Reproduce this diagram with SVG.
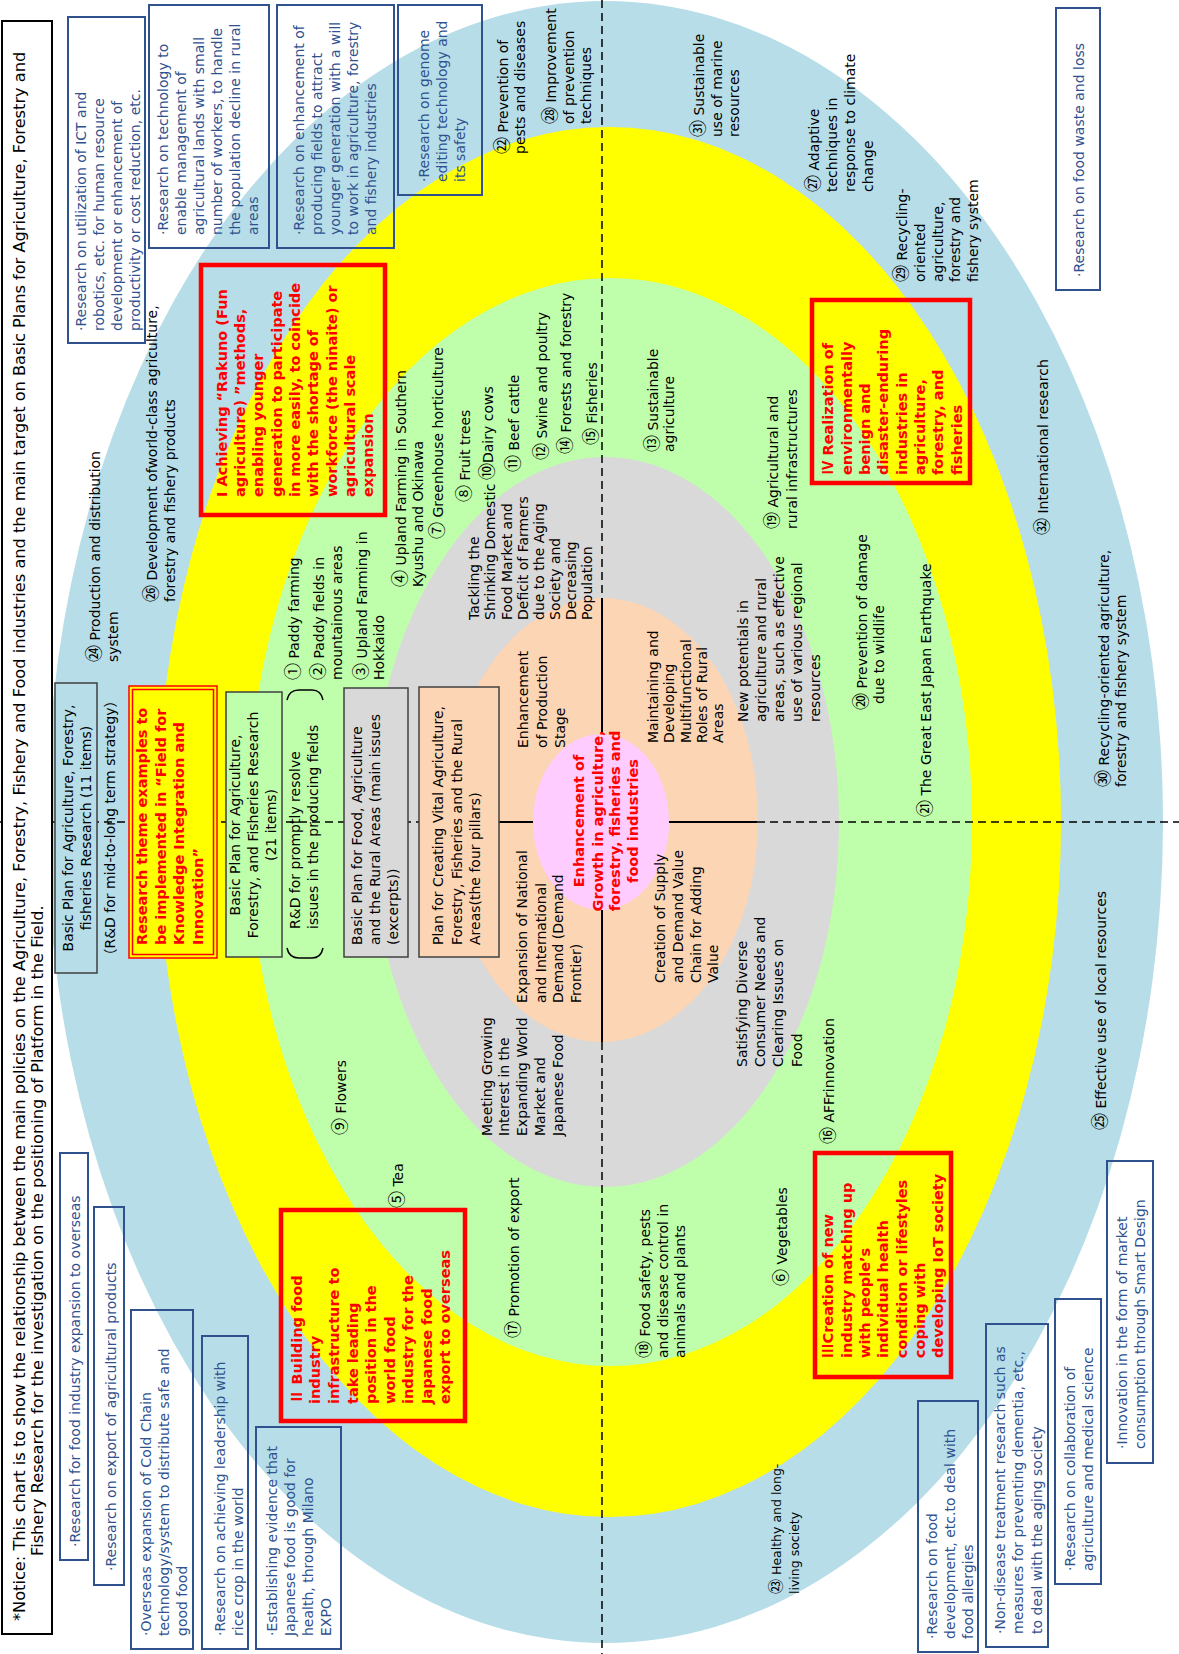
<svg xmlns="http://www.w3.org/2000/svg" width="1179" height="1654" viewBox="0 0 1179 1654">
<style>
text{font-family:"DejaVu Sans","Noto Sans CJK JP",sans-serif;}
.k{font-size:14px;fill:#000;}
.s{font-size:12.5px;fill:#000;}
.u{font-size:14px;fill:#2F528F;}
.r{font-size:14.5px;font-weight:bold;fill:#FF0000;}
.h{font-size:16.2px;fill:#000;}
.m{text-anchor:middle;}
.c{font-family:"Noto Sans CJK JP",sans-serif;font-size:17px;}
.cs{font-family:"Noto Sans CJK JP",sans-serif;font-size:15px;}
.n{font-family:"Noto Sans CJK JP",sans-serif;}
.bx{fill:none;stroke:#2F528F;stroke-width:2;}
.rb{fill:none;stroke:#FF0000;stroke-width:4.5;}
.pb{stroke:#404040;stroke-width:1.5;}
.dash{fill:none;stroke:#000;stroke-width:1.5;stroke-dasharray:8 5;}
.sol{fill:none;stroke:#000;stroke-width:2;}
</style>
<rect width="1179" height="1654" fill="#fff"/>
<g id="rings">
<ellipse cx="605" cy="822" rx="558" ry="821" fill="#B7DDE8"/>
<ellipse cx="609" cy="822" rx="452" ry="695" fill="#FFFF00"/>
<ellipse cx="610" cy="822" rx="362" ry="544" fill="#BFFFAB"/>
<ellipse cx="605" cy="822" rx="234" ry="365" fill="#D9D9D9"/>
<ellipse cx="602" cy="820" rx="156" ry="222" fill="#FCD5B4"/>
<ellipse cx="601" cy="822" rx="68" ry="88" fill="#FFCCFF"/>
</g>
<g id="connectors">
<path class="dash" d="M602,0V598M602,1042V1654M0,822H447M757,822H1179"/>
<path class="sol" d="M602,598V734M602,910V1042M447,822H533M669,822H757"/>
</g>
<g id="title">
<rect x="2" y="21" width="50" height="1613" fill="#fff" stroke="#000" stroke-width="2"/>
<text class="h" transform="translate(25,1621) rotate(-90)">*Notice: This chart is to show the relationship between the main policies on the Agriculture, Forestry, Fishery and Food industries and the main target on Basic Plans for Agriculture, Forestry and</text>
<text class="h" transform="translate(43,1556) rotate(-90)">Fishery Research for the investigation on the positioning of Platform in the Field.</text>
</g>
<g id="plan-boxes">
<g id="plan11">
<rect class="pb" x="55" y="683" width="42" height="290" fill="#B7DDE8"/>
<text class="k m" transform="translate(73,828) rotate(-90)"><tspan x="0" y="0">Basic Plan for Agriculture, Forestry,</tspan><tspan x="0" y="18">fisheries Research (11 items)</tspan></text>
<text class="k m" transform="translate(115,828) rotate(-90)">（R&amp;D for mid-to-long term strategy）</text>
</g>
<g id="theme-box">
<rect x="129" y="686" width="88" height="272" fill="#FFFF00" stroke="#FF0000" stroke-width="1.5"/>
<rect x="132.5" y="689.5" width="81" height="265" fill="none" stroke="#FF0000" stroke-width="1.5"/>
<text class="r" transform="translate(147,945) rotate(-90)"><tspan x="0" y="0">Research theme examples to</tspan><tspan x="0" y="19">be implemented in “Field for</tspan><tspan x="0" y="37">Knowledge Integration and</tspan><tspan x="0" y="56">Innovation”</tspan></text>
</g>
<g id="plan21">
<rect class="pb" x="226" y="692" width="56" height="265" fill="#BFFFAB"/>
<text class="k m" transform="translate(240,825) rotate(-90)"><tspan x="0" y="0">Basic Plan for Agriculture,</tspan><tspan x="0" y="18">Forestry, and Fisheries Research</tspan><tspan x="0" y="36">(21 items)</tspan></text>
<path d="M287,948Q289,958 299,958H312Q321,958 323,948M287,700Q289,690 299,690H312Q321,690 323,700" fill="none" stroke="#000" stroke-width="1.5"/>
<text class="k" transform="translate(300,929) rotate(-90)"><tspan x="0" y="0">R&amp;D for promptly resolve</tspan><tspan x="0" y="18">issues in the producing fields</tspan></text>
</g>
<g id="planfood">
<rect class="pb" x="344" y="688" width="64" height="269" fill="#D9D9D9"/>
<text class="k" transform="translate(362,945) rotate(-90)"><tspan x="0" y="0">Basic Plan for Food, Agriculture</tspan><tspan x="0" y="18">and the Rural Areas (main issues</tspan><tspan x="0" y="36">(excerpts))</tspan></text>
</g>
<g id="planvital">
<rect class="pb" x="419" y="687" width="80" height="270" fill="#FCD5B4"/>
<text class="k" transform="translate(443,945) rotate(-90)"><tspan x="0" y="0">Plan for Creating Vital Agriculture,</tspan><tspan x="0" y="19">Forestry, Fisheries and the Rural</tspan><tspan x="0" y="37">Areas(the four pillars)</tspan></text>
</g>
</g>
<g id="center">
<text class="r m" transform="translate(584,821) rotate(-90)"><tspan x="0" y="0">Enhancement of</tspan><tspan x="0" y="19">Growth in agriculture,</tspan><tspan x="0" y="36">forestry, fisheries and</tspan><tspan x="0" y="54">food industries</tspan></text>
</g>
<g id="pillars">
<text class="k" transform="translate(528,748) rotate(-90)"><tspan x="0" y="0">Enhancement</tspan><tspan x="0" y="19">of Production</tspan><tspan x="0" y="37">Stage</tspan></text>
<text class="k" transform="translate(658,743) rotate(-90)"><tspan x="0" y="0">Maintaining  and</tspan><tspan x="0" y="16">Developing</tspan><tspan x="0" y="33">Multifunctional</tspan><tspan x="0" y="49">Roles of Rural</tspan><tspan x="0" y="65">Areas</tspan></text>
<text class="k" transform="translate(527,1003) rotate(-90)"><tspan x="0" y="0">Expansion of National</tspan><tspan x="0" y="19">and International</tspan><tspan x="0" y="36">Demand (Demand</tspan><tspan x="0" y="54">Frontier)</tspan></text>
<text class="k" transform="translate(665,983) rotate(-90)"><tspan x="0" y="0">Creation of Supply</tspan><tspan x="0" y="18">and Demand Value</tspan><tspan x="0" y="36">Chain for Adding</tspan><tspan x="0" y="53">Value</tspan></text>
</g>
<g id="issues">
<text class="k" transform="translate(479,620) rotate(-90)"><tspan x="0" y="0">Tackling the</tspan><tspan x="0" y="16">Shrinking Domestic</tspan><tspan x="0" y="33">Food Market and</tspan><tspan x="0" y="49">Deficit of Farmers</tspan><tspan x="0" y="65">due to the Aging</tspan><tspan x="0" y="81">Society and</tspan><tspan x="0" y="97">Decreasing</tspan><tspan x="0" y="113">Population</tspan></text>
<text class="k" transform="translate(748,722) rotate(-90)"><tspan x="0" y="0">New potentials in</tspan><tspan x="0" y="18">agriculture and rural</tspan><tspan x="0" y="36">areas, such as effective</tspan><tspan x="0" y="54">use of various regional</tspan><tspan x="0" y="72">resources</tspan></text>
<text class="k" transform="translate(492,1136) rotate(-90)"><tspan x="0" y="0">Meeting Growing</tspan><tspan x="0" y="17">Interest in the</tspan><tspan x="0" y="35">Expanding World</tspan><tspan x="0" y="53">Market and</tspan><tspan x="0" y="71">Japanese Food</tspan></text>
<text class="k" transform="translate(747,1067) rotate(-90)"><tspan x="0" y="0">Satisfying Diverse</tspan><tspan x="0" y="18">Consumer Needs and</tspan><tspan x="0" y="36">Clearing Issues on</tspan><tspan x="0" y="55">Food</tspan></text>
</g>
<g id="commodities">
<text class="k" transform="translate(299,680) rotate(-90)"><tspan class="c">①</tspan> Paddy farming</text>
<text class="k" transform="translate(324,680) rotate(-90)"><tspan x="0" y="0"><tspan class="c">②</tspan> Paddy fields in</tspan><tspan x="0" y="18">mountainous areas</tspan></text>
<text class="k" transform="translate(367,680) rotate(-90)"><tspan x="0" y="0"><tspan class="c">③</tspan> Upland Farming in</tspan><tspan x="0" y="17">Hokkaido</tspan></text>
<text class="k" transform="translate(406,587) rotate(-90)"><tspan x="0" y="0"><tspan class="c">④</tspan> Upland Farming  in Southern</tspan><tspan x="0" y="17">Kyushu and Okinawa</tspan></text>
<text class="k" transform="translate(443,539) rotate(-90)"><tspan class="c">⑦</tspan> Greenhouse horticulture</text>
<text class="k" transform="translate(470,502) rotate(-90)"><tspan class="c">⑧</tspan> Fruit trees</text>
<text class="k" transform="translate(493,480) rotate(-90)"><tspan class="c">⑩</tspan>Dairy cows</text>
<text class="k" transform="translate(519,472) rotate(-90)"><tspan class="c">⑪</tspan> Beef cattle</text>
<text class="k" transform="translate(547,460) rotate(-90)"><tspan class="c">⑫</tspan> Swine and poultry</text>
<text class="k" transform="translate(571,454) rotate(-90)"><tspan class="c">⑭</tspan> Forests and forestry</text>
<text class="k" transform="translate(597,445) rotate(-90)"><tspan class="c">⑮</tspan> Fisheries</text>
<text class="k" transform="translate(658,452) rotate(-90)"><tspan x="0" y="0"><tspan class="c">⑬</tspan> Sustainable</tspan><tspan x="0" y="16">agriculture</tspan></text>
<text class="k" transform="translate(778,529) rotate(-90)"><tspan x="0" y="0"><tspan class="c">⑲</tspan> Agricultural and</tspan><tspan x="0" y="19">rural infrastructures</tspan></text>
<text class="k" transform="translate(867,710) rotate(-90)"><tspan x="0" y="0"><tspan class="c">⑳</tspan> Prevention of damage</tspan><tspan x="6" y="17">due to wildlife</tspan></text>
<text class="k" transform="translate(931,817) rotate(-90)"><tspan class="c">㉑</tspan> The Great East Japan Earthquake</text>
<text class="k" transform="translate(346,1135) rotate(-90)"><tspan class="c">⑨</tspan> Flowers</text>
<text class="k" transform="translate(403,1208) rotate(-90)"><tspan class="c">⑤</tspan> Tea</text>
<text class="k" transform="translate(519,1338) rotate(-90)"><tspan class="c">⑰</tspan> Promotion of export</text>
<text class="k" transform="translate(650,1358) rotate(-90)"><tspan x="0" y="0"><tspan class="c">⑱</tspan> Food safety, pests</tspan><tspan x="0" y="18">and disease control in</tspan><tspan x="0" y="35">animals and plants</tspan></text>
<text class="k" transform="translate(787,1286) rotate(-90)"><tspan class="c">⑥</tspan> Vegetables</text>
<text class="k" transform="translate(834,1144) rotate(-90)"><tspan class="c">⑯</tspan> AFFrinnovation</text>
</g>
<g id="outer-labels">
<text class="k" transform="translate(100,662) rotate(-90)"><tspan x="0" y="0"><tspan class="c">㉔</tspan> Production and distribution</tspan><tspan x="0" y="18">system</tspan></text>
<text class="k" transform="translate(157,602) rotate(-90)"><tspan x="0" y="0"><tspan class="c">㉖</tspan> Development ofworld-class agriculture,</tspan><tspan x="0" y="18">forestry and fishery products</tspan></text>
<text class="k" transform="translate(508,154) rotate(-90)"><tspan x="0" y="0"><tspan class="c">㉒</tspan> Prevention of</tspan><tspan x="0" y="17">pests and diseases</tspan></text>
<text class="k" transform="translate(556,124) rotate(-90)"><tspan x="0" y="0"><tspan class="c">㉘</tspan> Improvement</tspan><tspan x="0" y="18">of prevention</tspan><tspan x="0" y="35">techniques</tspan></text>
<text class="k" transform="translate(704,137) rotate(-90)"><tspan x="0" y="0"><tspan class="c">㉛</tspan> Sustainable</tspan><tspan x="0" y="18">use of marine</tspan><tspan x="0" y="35">resources</tspan></text>
<text class="k" transform="translate(819,192) rotate(-90)"><tspan x="0" y="0"><tspan class="c">㉗</tspan>  Adaptive</tspan><tspan x="0" y="18">techniques in</tspan><tspan x="0" y="36">response to climate</tspan><tspan x="0" y="54">change</tspan></text>
<text class="k" transform="translate(907,282) rotate(-90)"><tspan x="0" y="0"><tspan class="c">㉙</tspan> Recycling-</tspan><tspan x="0" y="18">oriented</tspan><tspan x="0" y="36">agriculture,</tspan><tspan x="0" y="53">forestry and</tspan><tspan x="0" y="71">fishery system</tspan></text>
<text class="k" transform="translate(1048,535) rotate(-90)"><tspan class="c">㉜</tspan> International research</text>
<text class="k" transform="translate(1109,787) rotate(-90)"><tspan x="0" y="0"><tspan class="c">㉚</tspan> Recycling-oriented agriculture,</tspan><tspan x="0" y="17">forestry and fishery system</tspan></text>
<text class="k" transform="translate(1106,1130) rotate(-90)"><tspan class="c">㉕</tspan> Effective use of local resources</text>
<text class="s" transform="translate(781,1594) rotate(-90)"><tspan x="0" y="0"><tspan class="cs">㉓</tspan> Healthy and long-</tspan><tspan x="0" y="18">living society</tspan></text>
</g>
<g id="research-boxes">
<g id="rA"><rect class="bx" x="68" y="17" width="77" height="326"/>
<text class="u" transform="translate(86,331) rotate(-90)"><tspan x="0" y="0">·Research on utilization of ICT and</tspan><tspan x="0" y="18">robotics, etc. for human resource</tspan><tspan x="0" y="36">development or enhancement of</tspan><tspan x="0" y="54">productivity or cost reduction, etc.</tspan></text></g>
<g id="rB"><rect class="bx" x="149" y="5" width="120" height="243"/>
<text class="u" transform="translate(168,235) rotate(-90)"><tspan x="0" y="0">·Research on technology to</tspan><tspan x="0" y="18">enable management of</tspan><tspan x="0" y="36">agricultural lands with small</tspan><tspan x="0" y="54">number of workers, to handle</tspan><tspan x="0" y="72">the population decline in rural</tspan><tspan x="0" y="90">areas</tspan></text></g>
<g id="rC"><rect class="bx" x="277" y="5" width="117" height="243"/>
<text class="u" transform="translate(304,235) rotate(-90)"><tspan x="0" y="0">·Research on enhancement of</tspan><tspan x="0" y="18">producing fields to attract</tspan><tspan x="0" y="36">younger generation with a will</tspan><tspan x="0" y="54">to work in agriculture,  forestry</tspan><tspan x="0" y="72">and fishery industries</tspan></text></g>
<g id="rD"><rect class="bx" x="398" y="5" width="84" height="190"/>
<text class="u" transform="translate(429,182) rotate(-90)"><tspan x="0" y="0">·Research on genome</tspan><tspan x="0" y="18">editing technology and</tspan><tspan x="0" y="36">its safety</tspan></text></g>
<g id="rE"><rect class="bx" x="1056" y="8" width="44" height="282"/>
<text class="u" transform="translate(1084,277) rotate(-90)">·Research on food waste and loss</text></g>
<g id="rF"><rect class="bx" x="60" y="1153" width="28" height="407"/>
<text class="u" transform="translate(80,1547) rotate(-90)">·Research for food industry expansion to overseas</text></g>
<g id="rG"><rect class="bx" x="94" y="1207" width="30" height="378"/>
<text class="u" transform="translate(116,1571) rotate(-90)">·Research on export of agricultural products</text></g>
<g id="rH"><rect class="bx" x="131" y="1310" width="62" height="339"/>
<text class="u" transform="translate(151,1636) rotate(-90)"><tspan x="0" y="0">·Overseas expansion of Cold Chain</tspan><tspan x="0" y="18">technology/system to distribute safe and</tspan><tspan x="0" y="36">good food</tspan></text></g>
<g id="rI"><rect class="bx" x="202" y="1336" width="46" height="313"/>
<text class="u" transform="translate(225,1636) rotate(-90)"><tspan x="0" y="0">·Research on achieving leadership with</tspan><tspan x="0" y="18">rice crop in the world</tspan></text></g>
<g id="rJ"><rect class="bx" x="256" y="1427" width="85" height="222"/>
<text class="u" transform="translate(277,1636) rotate(-90)"><tspan x="0" y="0">·Establishing evidence that</tspan><tspan x="0" y="18">Japanese food is good for</tspan><tspan x="0" y="36">health, through Milano</tspan><tspan x="0" y="54">EXPO</tspan></text></g>
<g id="rK"><rect class="bx" x="918" y="1401" width="60" height="251"/>
<text class="u" transform="translate(937,1639) rotate(-90)"><tspan x="0" y="0">·Research on food</tspan><tspan x="0" y="18">development, etc.to deal with</tspan><tspan x="0" y="36">food allergies</tspan></text></g>
<g id="rL"><rect class="bx" x="986" y="1324" width="62" height="323"/>
<text class="u" transform="translate(1005,1634) rotate(-90)"><tspan x="0" y="0">·Non-disease treatment research such as</tspan><tspan x="0" y="18">measures for preventing dementia, etc.,</tspan><tspan x="0" y="37">to deal with the aging society</tspan></text></g>
<g id="rM"><rect class="bx" x="1055" y="1299" width="46" height="285"/>
<text class="u" transform="translate(1075,1571) rotate(-90)"><tspan x="0" y="0">·Research on collaboration of</tspan><tspan x="0" y="18">agriculture and medical science</tspan></text></g>
<g id="rN"><rect class="bx" x="1107" y="1161" width="46" height="302"/>
<text class="u" transform="translate(1127,1449) rotate(-90)"><tspan x="0" y="0">·Innovation in the form of market</tspan><tspan x="0" y="18">consumption through Smart Design</tspan></text></g>
</g>
<g id="targets">
<g id="t1"><rect class="rb" x="201" y="265" width="184" height="250"/>
<text class="r" transform="translate(227,497) rotate(-90)"><tspan x="0" y="0">I Achieving “Rakuno (Fun</tspan><tspan x="0" y="18">agriculture) ”methods,</tspan><tspan x="0" y="36">enabling younger</tspan><tspan x="0" y="55">generation to participate</tspan><tspan x="0" y="73">in more easily, to coincide</tspan><tspan x="0" y="91">with the shortage of</tspan><tspan x="0" y="110">workforce (the ninaite) or</tspan><tspan x="0" y="128">agricultural scale</tspan><tspan x="0" y="146">expansion</tspan></text></g>
<g id="t2"><rect class="rb" x="281" y="1210" width="184" height="211"/>
<text class="r" transform="translate(302,1404) rotate(-90)"><tspan x="0" y="0"><tspan class="n">Ⅱ</tspan> Building food</tspan><tspan x="0" y="18">industry</tspan><tspan x="0" y="37">infrastructure to</tspan><tspan x="0" y="56">take leading</tspan><tspan x="0" y="74">position in the</tspan><tspan x="0" y="93">world food</tspan><tspan x="0" y="111">industry for the</tspan><tspan x="0" y="130">Japanese food</tspan><tspan x="0" y="148">export to overseas</tspan></text></g>
<g id="t3"><rect class="rb" x="815" y="1153" width="136" height="224"/>
<text class="r" transform="translate(833,1358) rotate(-90)"><tspan x="0" y="0"><tspan class="n">Ⅲ</tspan>Creation of new</tspan><tspan x="0" y="19">industry matching up</tspan><tspan x="0" y="37">with people’s</tspan><tspan x="0" y="55">individual health</tspan><tspan x="0" y="74">condition or lifestyles</tspan><tspan x="0" y="92">coping with</tspan><tspan x="0" y="110">developing IoT society</tspan></text></g>
<g id="t4"><rect class="rb" x="812" y="300" width="158" height="183"/>
<text class="r" transform="translate(833,475) rotate(-90)"><tspan x="0" y="0"><tspan class="n">Ⅳ</tspan> Realization of</tspan><tspan x="0" y="19">environmentally</tspan><tspan x="0" y="37">benign and</tspan><tspan x="0" y="55">disaster-enduring</tspan><tspan x="0" y="74">industries in</tspan><tspan x="0" y="92">agriculture,</tspan><tspan x="0" y="110">forestry, and</tspan><tspan x="0" y="129">fisheries</tspan></text></g>
</g>
</svg>
